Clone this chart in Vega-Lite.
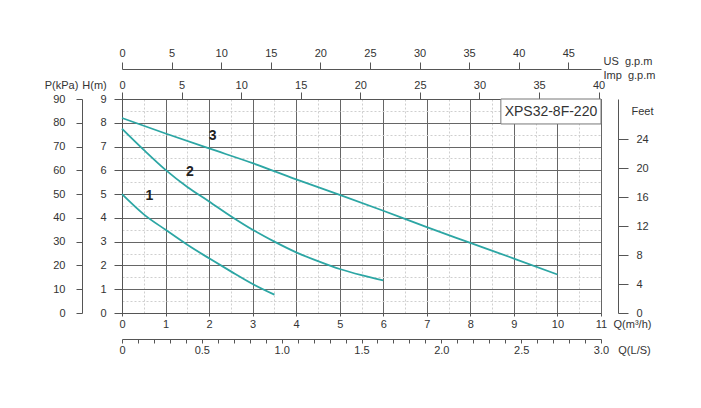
{
  "$schema": "https://vega.github.io/schema/vega-lite/v6.json",
  "width": 479,
  "height": 214,
  "autosize": "none",
  "padding": {"left": 122, "top": 99, "right": 100, "bottom": 95},
  "background": "white",
  "config": {
    "view": {"stroke": null},
    "font": "Liberation Sans",
    "axis": {
      "labelFont": "Liberation Sans",
      "labelFontSize": 11,
      "labelColor": "#333",
      "titleFont": "Liberation Sans",
      "titleFontSize": 11,
      "titleFontWeight": "normal",
      "titleColor": "#333",
      "domainColor": "#555",
      "tickColor": "#555",
      "labelFlush": false,
      "labelOverlap": false,
      "grid": false
    }
  },
  "datasets": {
    "curves": [
      {"curve": "1", "q": 0, "h": 5.0},
      {"curve": "1", "q": 0.5, "h": 4.15},
      {"curve": "1", "q": 1, "h": 3.5},
      {"curve": "1", "q": 1.5, "h": 2.87},
      {"curve": "1", "q": 2, "h": 2.3},
      {"curve": "1", "q": 2.5, "h": 1.75},
      {"curve": "1", "q": 3, "h": 1.22},
      {"curve": "1", "q": 3.5, "h": 0.77},
      {"curve": "2", "q": 0, "h": 7.75},
      {"curve": "2", "q": 0.5, "h": 6.86},
      {"curve": "2", "q": 1, "h": 6.02},
      {"curve": "2", "q": 1.5, "h": 5.3},
      {"curve": "2", "q": 2, "h": 4.69},
      {"curve": "2", "q": 2.5, "h": 4.07},
      {"curve": "2", "q": 3, "h": 3.5},
      {"curve": "2", "q": 3.5, "h": 3.0},
      {"curve": "2", "q": 4, "h": 2.55},
      {"curve": "2", "q": 4.5, "h": 2.18},
      {"curve": "2", "q": 5, "h": 1.85},
      {"curve": "2", "q": 5.5, "h": 1.59},
      {"curve": "2", "q": 6, "h": 1.37},
      {"curve": "3", "q": 0, "h": 8.2},
      {"curve": "3", "q": 1, "h": 7.55},
      {"curve": "3", "q": 2, "h": 6.92},
      {"curve": "3", "q": 3, "h": 6.3},
      {"curve": "3", "q": 4, "h": 5.62},
      {"curve": "3", "q": 5, "h": 4.97},
      {"curve": "3", "q": 6, "h": 4.3},
      {"curve": "3", "q": 7, "h": 3.61},
      {"curve": "3", "q": 8, "h": 2.95},
      {"curve": "3", "q": 9, "h": 2.29},
      {"curve": "3", "q": 10, "h": 1.62}
    ],
    "labels": [
      {"label": "1", "q": 0.63, "h": 4.9},
      {"label": "2", "q": 1.56, "h": 5.95},
      {"label": "3", "q": 2.08, "h": 7.45}
    ],
    "box": [
      {"name": "XPS32-8F-220", "q1": 8.7, "q2": 11, "h1": 7.95, "h2": 9, "qc": 9.85, "hc": 8.47}
    ]
  },
  "resolve": {
    "scale": {"x": "independent", "y": "independent"},
    "axis": {"x": "independent", "y": "independent"}
  },
  "layer": [
    {
      "data": {"name": "curves"},
      "mark": {"type": "point", "opacity": 0},
      "encoding": {
        "x": {
          "field": "q", "type": "quantitative",
          "scale": {"domain": [0, 11], "nice": false, "zero": false},
          "axis": {"orient": "bottom", "values": [0.5, 1.5, 2.5, 3.5, 4.5, 5.5, 6.5, 7.5, 8.5, 9.5, 10.5], "grid": true, "gridColor": "#cfcfcf", "gridDash": [2, 2], "labels": false, "ticks": false, "domain": false, "title": null}
        },
        "y": {
          "field": "h", "type": "quantitative",
          "scale": {"domain": [0, 9], "nice": false, "zero": false},
          "axis": {"orient": "left", "values": [0.5, 1.5, 2.5, 3.5, 4.5, 5.5, 6.5, 7.5, 8.5], "grid": true, "gridColor": "#cfcfcf", "gridDash": [2, 2], "labels": false, "ticks": false, "domain": false, "title": null}
        }
      }
    },
    {
      "data": {"name": "curves"},
      "mark": {"type": "line", "color": "#2ca6a4", "strokeWidth": 1.8, "interpolate": "monotone"},
      "encoding": {
        "x": {
          "field": "q", "type": "quantitative",
          "scale": {"domain": [0, 11], "nice": false, "zero": false},
          "axis": {"orient": "bottom", "values": [0, 1, 2, 3, 4, 5, 6, 7, 8, 9, 10, 11], "grid": true, "gridColor": "#666", "tickSize": 3, "labelPadding": 2, "title": "Q(m³/h)", "titleX": 510, "titleY": 11, "titleAlign": "center", "titleBaseline": "middle", "titleAngle": 0}
        },
        "y": {
          "field": "h", "type": "quantitative",
          "scale": {"domain": [0, 9], "nice": false, "zero": false},
          "axis": {"orient": "left", "values": [0, 1, 2, 3, 4, 5, 6, 7, 8, 9], "grid": true, "gridColor": "#666", "tickSize": 8, "labelPadding": 8, "title": "H(m)", "titleX": -28, "titleY": -14, "titleAlign": "center", "titleBaseline": "middle", "titleAngle": 0}
        },
        "detail": {"field": "curve"}
      }
    },
    {
      "data": {"name": "curves"},
      "mark": {"type": "point", "opacity": 0},
      "encoding": {
        "y": {
          "field": "h", "type": "quantitative",
          "scale": {"domain": [0, 90], "nice": false, "zero": false},
          "axis": {"orient": "left", "offset": 40, "values": [0, 10, 20, 30, 40, 50, 60, 70, 80, 90], "tickSize": 6, "labelPadding": 11, "title": "P(kPa)", "titleX": -21, "titleY": -14, "titleAlign": "center", "titleBaseline": "middle", "titleAngle": 0}
        }
      }
    },
    {
      "data": {"name": "curves"},
      "mark": {"type": "point", "opacity": 0},
      "encoding": {
        "y": {
          "field": "h", "type": "quantitative",
          "scale": {"domain": [0, 29.5276], "nice": false, "zero": false},
          "axis": {"orient": "right", "offset": 17, "values": [0, 4, 8, 12, 16, 20, 24], "tickSize": 10, "labelPadding": 8, "title": "Feet", "titleX": 24, "titleY": 12, "titleAlign": "center", "titleBaseline": "middle", "titleAngle": 0}
        }
      }
    },
    {
      "data": {"name": "curves"},
      "mark": {"type": "point", "opacity": 0},
      "encoding": {
        "x": {
          "field": "q", "type": "quantitative",
          "scale": {"domain": [0, 48.3], "nice": false, "zero": false},
          "axis": {"orient": "top", "offset": 30, "values": [0, 5, 10, 15, 20, 25, 30, 35, 40, 45], "tickSize": 7, "labelPadding": 4, "title": "US\u00a0\u00a0g.p.m", "titleX": 481, "titleY": -8, "titleAlign": "left", "titleBaseline": "middle", "titleAngle": 0}
        }
      }
    },
    {
      "data": {"name": "curves"},
      "mark": {"type": "point", "opacity": 0},
      "encoding": {
        "x": {
          "field": "q", "type": "quantitative",
          "scale": {"domain": [0, 40.2], "nice": false, "zero": false},
          "axis": {"orient": "top", "values": [0, 5, 10, 15, 20, 25, 30, 35, 40], "tickSize": 7, "labelPadding": 2, "title": "Imp\u00a0\u00a0g.p.m", "titleX": 481, "titleY": -24, "titleAlign": "left", "titleBaseline": "middle", "titleAngle": 0}
        }
      }
    },
    {
      "data": {"name": "curves"},
      "mark": {"type": "point", "opacity": 0},
      "encoding": {
        "x": {
          "field": "q", "type": "quantitative",
          "scale": {"domain": [0, 3], "nice": false, "zero": false},
          "axis": {"orient": "bottom", "offset": 26, "values": [0, 0.1, 0.2, 0.3, 0.4, 0.5, 0.6, 0.7, 0.8, 0.9, 1.0, 1.1, 1.2, 1.3, 1.4, 1.5, 1.6, 1.7, 1.8, 1.9, 2.0, 2.1, 2.2, 2.3, 2.4, 2.5, 2.6, 2.7, 2.8, 2.9, 3.0], "tickSize": 4, "labelPadding": 1, "labelExpr": "datum.value == 0 ? '0' : (abs(datum.value * 2 - round(datum.value * 2)) < 0.01 ? format(datum.value, '.1f') : '')", "title": "Q(L/S)", "titleX": 512, "titleY": 11, "titleAlign": "center", "titleBaseline": "middle", "titleAngle": 0}
        }
      }
    },
    {
      "data": {"name": "box"},
      "mark": {"type": "rect", "fill": "white", "stroke": "#777", "strokeWidth": 1},
      "encoding": {
        "x": {"field": "q1", "type": "quantitative", "scale": {"domain": [0, 11], "nice": false, "zero": false}, "axis": null},
        "x2": {"field": "q2"},
        "y": {"field": "h1", "type": "quantitative", "scale": {"domain": [0, 9], "nice": false, "zero": false}, "axis": null},
        "y2": {"field": "h2"}
      }
    },
    {
      "data": {"name": "box"},
      "mark": {"type": "text", "fontSize": 14, "color": "#333", "font": "Liberation Sans", "align": "center", "baseline": "middle"},
      "encoding": {
        "x": {"field": "qc", "type": "quantitative", "scale": {"domain": [0, 11], "nice": false, "zero": false}, "axis": null},
        "y": {"field": "hc", "type": "quantitative", "scale": {"domain": [0, 9], "nice": false, "zero": false}, "axis": null},
        "text": {"field": "name"}
      }
    },
    {
      "data": {"name": "labels"},
      "mark": {"type": "text", "fontSize": 14, "fontWeight": "bold", "color": "#222", "font": "Liberation Sans", "align": "center", "baseline": "middle"},
      "encoding": {
        "x": {"field": "q", "type": "quantitative", "scale": {"domain": [0, 11], "nice": false, "zero": false}, "axis": null},
        "y": {"field": "h", "type": "quantitative", "scale": {"domain": [0, 9], "nice": false, "zero": false}, "axis": null},
        "text": {"field": "label"}
      }
    }
  ]
}
